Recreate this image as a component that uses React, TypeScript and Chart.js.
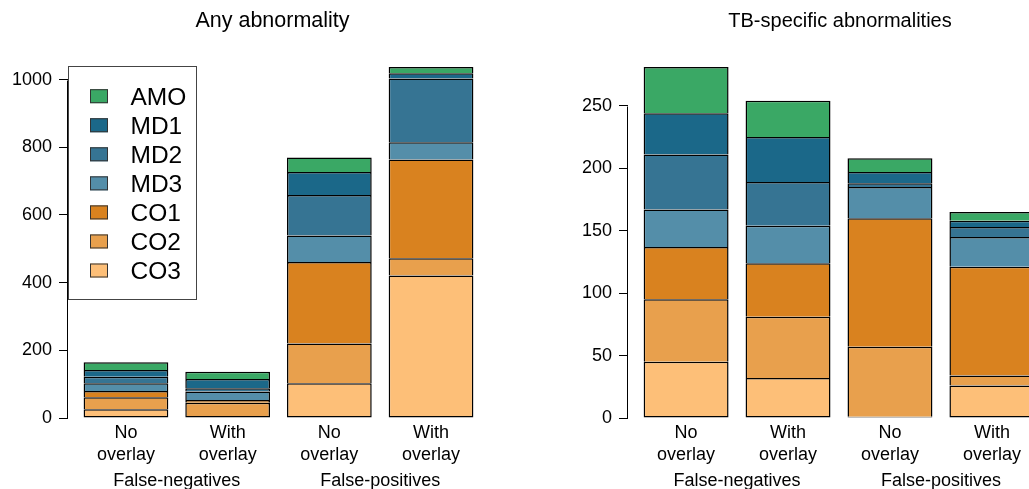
import React, { useEffect, useRef } from "react";
import { Chart, registerables } from "chart.js";

Chart.register(...registerables);

const FONT = '"Liberation Sans", Arial, Helvetica, sans-serif';

// ---- data ----
const categories: string[][] = [
  ["No", "overlay"],
  ["With", "overlay"],
  ["No", "overlay"],
  ["With", "overlay"],
];
const groups = ["False-negatives", "False-positives"];
const seriesNames = ["CO3", "CO2", "CO1", "MD3", "MD2", "MD1", "AMO"];
const seriesColors = ["#FDBF78", "#E8A04D", "#D9821F", "#548EA9", "#367493", "#1B6889", "#3AA865"];

// Any abnormality
const anyCO3 = [26, 0, 103, 421];
const anyCO2 = [35, 45, 117, 51];
const anyCO1 = [19, 8, 241, 292];
const anyMD3 = [23, 25, 78, 51];
const anyMD2 = [19, 10, 120, 188];
const anyMD1 = [20, 27, 68, 16];
const anyAMO = [23, 22, 43, 18];
const anyTicks = [0, 200, 400, 600, 800, 1000];

// TB-specific abnormalities
const tbCO3 = [45, 32, 1, 26];
const tbCO2 = [50, 49, 56, 8];
const tbCO1 = [42, 43, 103, 87];
const tbMD3 = [30, 30, 25, 24];
const tbMD2 = [44, 35, 3, 8];
const tbMD1 = [33, 36, 9, 5];
const tbAMO = [37, 29, 11, 7];
const tbTicks = [0, 50, 100, 150, 200, 250];

// barplot layout rule (width 1, space 0.2)
const SPACE = 0.2;
const barCenter = (i: number) => SPACE + 0.5 + i * (1 + SPACE);
const nBars = categories.length;
const xLo = SPACE;
const xHi = nBars * (1 + SPACE);
const xExt = (xHi - xLo) * 0.04;

type PanelSpec = {
  title: string;
  titleX: number;
  titleSize: number;
  series: number[][];
  ticks: number[];
  legend: boolean;
  canvasLeft: number;
  canvasWidth: number;
  plotLeft: number;
  plotRight: number;
};

const CANVAS_H = 489;
const PLOT_TOP = 53;
const PLOT_BOTTOM = 418;
const BW = 1.5;

function makeDecor(spec: PanelSpec) {
  return {
    id: "decor",
    afterDraw(chart: any) {
      const ctx = chart.ctx as CanvasRenderingContext2D;
      const { left } = chart.chartArea;
      const ys = chart.scales.y;
      const xs = chart.scales.x;
      ctx.save();
      ctx.strokeStyle = "#000";
      ctx.lineWidth = 1;
      ctx.beginPath();
      const ax = Math.round(left) - 0.5;
      ctx.moveTo(ax, Math.round(ys.getPixelForValue(spec.ticks[0])) + 0.5);
      ctx.lineTo(ax, Math.round(ys.getPixelForValue(spec.ticks[spec.ticks.length - 1])) + 0.5);
      ctx.stroke();
      ctx.fillStyle = "#000";
      ctx.textAlign = "center";
      ctx.textBaseline = "alphabetic";
      ctx.font = `${spec.titleSize}px ${FONT}`;
      ctx.fillText(spec.title, spec.titleX, 27);
      ctx.font = `18px ${FONT}`;
      groups.forEach((g, gi) => {
        const a = xs.getPixelForValue(barCenter(gi * 2));
        const b = xs.getPixelForValue(barCenter(gi * 2 + 1));
        ctx.fillText(g, (a + b) / 2, 486);
      });
      if (spec.legend) {
        const bx = left + 0.5;
        const by = 66.5;
        ctx.strokeStyle = "#444";
        ctx.lineWidth = 1;
        ctx.strokeRect(bx, by, 128, 233);
        ctx.font = `24.5px ${FONT}`;
        ctx.textAlign = "left";
        for (let k = 0; k < seriesNames.length; k++) {
          const idx = seriesNames.length - 1 - k;
          const cy = 96.2 + k * 29.05;
          ctx.fillStyle = seriesColors[idx];
          ctx.fillRect(left + 22, cy - 7, 18, 14);
          ctx.strokeStyle = "#333";
          ctx.strokeRect(left + 22.5, cy - 6.5, 17, 13);
          ctx.fillStyle = "#000";
          ctx.fillText(seriesNames[idx], left + 62.5, cy + 8.8);
        }
      }
      ctx.restore();
    },
  };
}

function Panel({ spec }: { spec: PanelSpec }) {
  const ref = useRef<HTMLCanvasElement | null>(null);
  useEffect(() => {
    if (!ref.current) return;
    const totals = categories.map((_, i) => spec.series.reduce((s, arr) => s + arr[i], 0));
    const yMax = Math.max(...totals) * 1.04;
    const chart = new Chart(ref.current, {
      type: "bar",
      data: {
        datasets: spec.series.map((arr, si) => ({
          label: seriesNames[si],
          data: arr.map((v, i) => ({ x: barCenter(i), y: v })),
          backgroundColor: seriesColors[si],
          borderColor: "#000",
          borderWidth: (c: any) => {
            const i = c.dataIndex;
            let below = 0;
            for (let k = 0; k < si; k++) below += spec.series[k][i];
            return { top: BW, left: BW, right: BW, bottom: below === 0 ? BW : 0 };
          },
          borderSkipped: false,
          barPercentage: 1 / (1 + SPACE),
          categoryPercentage: 1,
        })),
      },
      options: {
        responsive: false,
        maintainAspectRatio: false,
        animation: false,
        events: [],
        layout: {
          padding: { top: PLOT_TOP, left: 0, bottom: 0, right: spec.canvasWidth - spec.plotRight },
        },
        plugins: {
          legend: { display: false },
          title: { display: false },
          tooltip: { enabled: false },
        },
        scales: {
          x: {
            type: "linear",
            stacked: true,
            offset: false,
            min: xLo - xExt,
            max: xHi + xExt,
            grid: { display: false },
            border: { display: false },
            afterBuildTicks: (scale: any) => {
              scale.ticks = categories.map((_, i) => ({ value: barCenter(i) }));
            },
            afterFit: (scale: any) => {
              scale.height = CANVAS_H - PLOT_BOTTOM;
            },
            ticks: {
              autoSkip: false,
              maxRotation: 0,
              minRotation: 0,
              padding: -4,
              color: "#000",
              font: { family: FONT, size: 18, lineHeight: "22px" },
              callback: (_v: any, index: number) => categories[index],
            },
          },
          y: {
            type: "linear",
            stacked: true,
            min: 0,
            max: yMax,
            grid: {
              display: true,
              drawOnChartArea: false,
              drawTicks: true,
              tickLength: 9,
              color: "#000",
              lineWidth: 1,
            },
            border: { display: false },
            afterBuildTicks: (scale: any) => {
              scale.ticks = spec.ticks.map((v) => ({ value: v }));
            },
            afterFit: (scale: any) => {
              scale.width = spec.plotLeft;
            },
            ticks: {
              padding: 7,
              color: "#000",
              font: { family: FONT, size: 18 },
              callback: (v: any) => String(v),
            },
          },
        },
      },
      plugins: [makeDecor(spec)],
    } as any);
    return () => chart.destroy();
  }, [spec]);
  return (
    <canvas
      ref={ref}
      width={spec.canvasWidth}
      height={CANVAS_H}
      style={{
        position: "absolute",
        left: spec.canvasLeft,
        top: 0,
        width: spec.canvasWidth,
        height: CANVAS_H,
      }}
    />
  );
}

const leftSpec: PanelSpec = {
  title: "Any abnormality",
  titleX: 272.5,
  titleSize: 21.5,
  series: [anyCO3, anyCO2, anyCO1, anyMD3, anyMD2, anyMD1, anyAMO],
  ticks: anyTicks,
  legend: true,
  canvasLeft: 0,
  canvasWidth: 514,
  plotLeft: 68,
  plotRight: 489,
};

const rightSpec: PanelSpec = {
  title: "TB-specific abnormalities",
  titleX: 326,
  titleSize: 20,
  series: [tbCO3, tbCO2, tbCO1, tbMD3, tbMD2, tbMD1, tbAMO],
  ticks: tbTicks,
  legend: false,
  canvasLeft: 514,
  canvasWidth: 561,
  plotLeft: 114,
  plotRight: 536,
};

export default function App() {
  return (
    <div
      style={{
        position: "fixed",
        left: 0,
        top: 0,
        width: 1029,
        height: 489,
        overflow: "hidden",
        background: "#fff",
      }}
    >
      <Panel spec={leftSpec} />
      <Panel spec={rightSpec} />
    </div>
  );
}
